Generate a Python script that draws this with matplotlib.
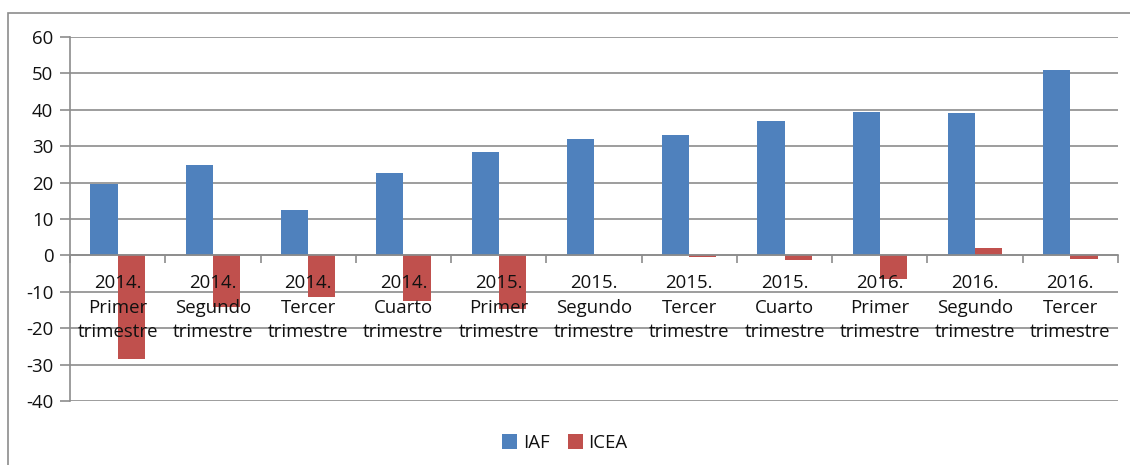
import matplotlib
matplotlib.use("Agg")
import matplotlib.pyplot as plt
import matplotlib.patches as mpatches
import numpy as np

## DATA
categories = [
    "2014.\nPrimer\ntrimestre", "2014.\nSegundo\ntrimestre", "2014.\nTercer\ntrimestre",
    "2014.\nCuarto\ntrimestre", "2015.\nPrimer\ntrimestre", "2015.\nSegundo\ntrimestre",
    "2015.\nTercer\ntrimestre", "2015.\nCuarto\ntrimestre", "2016.\nPrimer\ntrimestre",
    "2016.\nSegundo\ntrimestre", "2016.\nTercer\ntrimestre",
]
iaf = [19.6, 24.9, 12.6, 22.7, 28.4, 32.0, 33.1, 36.9, 39.3, 39.1, 50.8]
icea = [-28.5, -14.3, -11.5, -12.5, -14.6, 0.0, -0.4, -1.2, -6.4, 1.9, -0.9]
yticks = [-40, -30, -20, -10, 0, 10, 20, 30, 40, 50, 60]

BLUE = "#4f81bd"
RED = "#c0504d"
GRID = "#8c8c8c"
TXT = "#111111"

plt.rcParams["font.family"] = ["Open Sans", "DejaVu Sans"]
plt.rcParams["axes.unicode_minus"] = False

fig = plt.figure(figsize=(11.3, 4.65), dpi=100)
ax = fig.add_axes([70 / 1130, 1 - 401 / 465, 1048 / 1130, 364 / 465])

x = np.arange(len(categories))
w = 0.285
ax.bar(x - w / 2, iaf, w, color=BLUE, label="IAF", zorder=3)
ax.bar(x + w / 2, icea, w, color=RED, label="ICEA", zorder=3)

ax.set_xlim(-0.5, len(categories) - 0.5)
ax.set_ylim(-40, 60)
ax.set_yticks(yticks)
ax.yaxis.grid(True, color=GRID, lw=1.2, zorder=0)
ax.set_axisbelow(True)

for s in ["top", "right"]:
    ax.spines[s].set_visible(False)
ax.spines["left"].set_color(GRID)
ax.spines["left"].set_linewidth(1.2)
ax.spines["bottom"].set_position(("data", 0))
ax.spines["bottom"].set_color(GRID)
ax.spines["bottom"].set_linewidth(1.2)
ax.spines["bottom"].set_zorder(4)

# category labels drawn on top of the bars
ax.set_xticks([])
for xi, lab in zip(x, categories):
    ax.text(xi, -14.4, lab, ha="center", va="center", fontsize=13.4,
            linespacing=1.47, color=TXT, zorder=5)
ax.set_xticks(np.arange(-0.5, len(categories)), minor=True)
ax.tick_params(axis="x", which="minor", length=6, color=GRID, width=1.2)
ax.tick_params(axis="y", length=7, color=GRID, width=1.2, labelsize=13.4,
               labelcolor=TXT, pad=5)

ax.legend(loc="center", bbox_to_anchor=(0.5, (465 - 443) / 465), bbox_transform=fig.transFigure,
          ncol=2, frameon=False, fontsize=13.4, handlelength=0.8, handleheight=0.8,
          handletextpad=0.3, columnspacing=1.0, labelcolor=TXT)

# outer chart frame
fig.patches.append(mpatches.Rectangle((8 / 1130, -0.1), 1.2, 1 - 13 / 465 + 0.1,
                                      transform=fig.transFigure, fill=False,
                                      edgecolor=GRID, lw=1.2))

fig.savefig("out.png", dpi=100)
